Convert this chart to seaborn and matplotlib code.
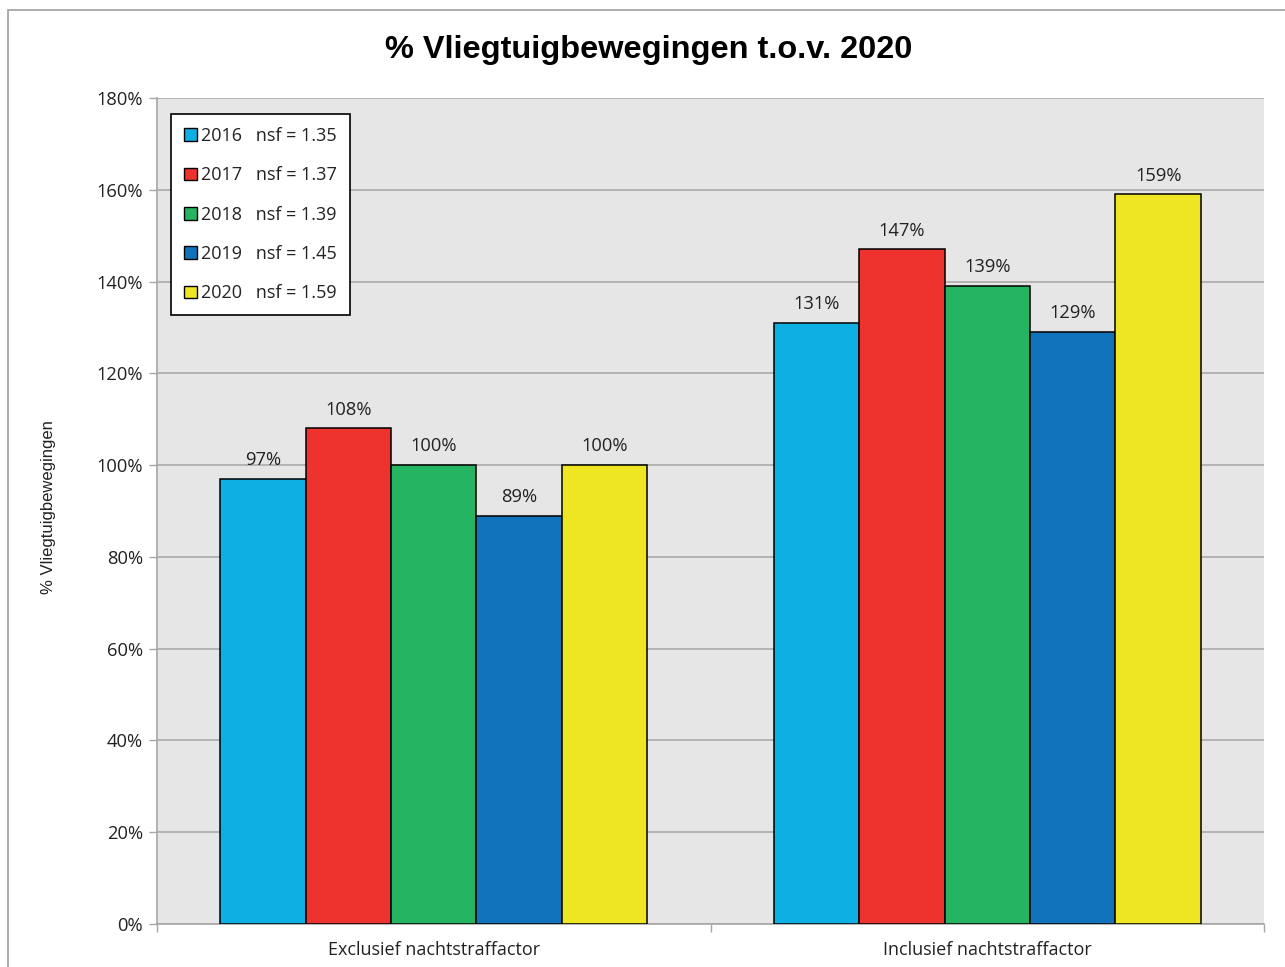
import numpy as np
import pandas as pd
import matplotlib
matplotlib.use('Agg')
import matplotlib.pyplot as plt
import seaborn as sns
from matplotlib.patches import Rectangle
from matplotlib.ticker import PercentFormatter, FixedLocator

# data
categories = ['Exclusief nachtstraffactor', 'Inclusief nachtstraffactor']
years = ['2016', '2017', '2018', '2019', '2020']
nsf = ['1.35', '1.37', '1.39', '1.45', '1.59']
excl_values = [97, 108, 100, 89, 100]
incl_values = [131, 147, 139, 129, 159]
colors = ['#0EB0E4', '#EE322D', '#25B462', '#1173B9', '#EEE623']

labels = [f'{y}   nsf = {n}' for y, n in zip(years, nsf)]
df = pd.DataFrame({
    'categorie': [categories[0]] * 5 + [categories[1]] * 5,
    'serie': labels * 2,
    'waarde': excl_values + incl_values,
})

sns.set_style('white')
plt.rcParams['font.family'] = ['Open Sans', 'DejaVu Sans']

fig = plt.figure(figsize=(12.85, 9.67), dpi=100)
ax = fig.add_axes([157/1285, 1 - 924/967, (1264-157)/1285, (924-98)/967])
ax.set_facecolor('#E6E6E6')

sns.barplot(data=df, x='categorie', y='waarde', hue='serie', palette=colors,
            width=0.772, edgecolor='black', linewidth=1.1, saturation=1,
            ax=ax, zorder=3)

for cont in ax.containers:
    ax.bar_label(cont, labels=[f'{v:.0f}%' for v in cont.datavalues],
                 padding=7, fontsize=13.2, color='#222222')

ax.set_ylim(0, 180)
ax.set_xlim(-0.5, 1.5)
ax.set_yticks(range(0, 181, 20))
ax.yaxis.set_major_formatter(PercentFormatter(decimals=0))
ax.grid(axis='y', color='#A6A6A6', linewidth=1.1, zorder=0)
ax.set_axisbelow(True)

# category boundaries as tick marks, labels centered
ax.xaxis.set_minor_locator(FixedLocator([-0.5, 0.5, 1.5]))
ax.tick_params(axis='x', which='major', length=0, labelsize=13, pad=12, colors='#222222')
ax.tick_params(axis='x', which='minor', length=6, width=1, color='#A6A6A6', direction='out')
ax.tick_params(axis='y', length=6, width=1, color='#A6A6A6', labelsize=13.2, labelcolor='#222222',
               direction='out', pad=4)
ax.tick_params(axis='both', which='both', bottom=True, left=True)

for s in ['top', 'right']:
    ax.spines[s].set_visible(False)
for s in ['left', 'bottom']:
    ax.spines[s].set_color('#A6A6A6')
    ax.spines[s].set_linewidth(1.2)

ax.set_xlabel('')
ax.set_ylabel('% Vliegtuigbewegingen', fontsize=12, color='#222222',
              family=['Liberation Sans', 'DejaVu Sans'])
ax.yaxis.set_label_coords((56 - 157) / 1107, 0.505)

leg = ax.legend(loc='upper left', bbox_to_anchor=(14/1107, 1 - 16/826), frameon=True,
                fancybox=False, edgecolor='black', facecolor='white', framealpha=1,
                fontsize=13, handlelength=0.7, handleheight=0.7, handletextpad=0.25,
                labelspacing=1.18, borderpad=0.72, borderaxespad=0)
leg.get_frame().set_linewidth(1.2)
for h in leg.legend_handles:
    h.set_edgecolor('black')
    h.set_linewidth(1)
for t in leg.get_texts():
    t.set_color('#222222')

fig.text(0.505, 1 - 50/967, '% Vliegtuigbewegingen t.o.v. 2020', ha='center', va='center',
         fontsize=23.4, fontweight='bold', family=['Liberation Sans', 'DejaVu Sans'],
         color='black')

# outer chart border (cropped on right and bottom)
fig.patches.append(Rectangle((8/1285, -0.01), 1.02, 1 - 10/967 + 0.01, transform=fig.transFigure,
                             fill=False, edgecolor='#A6A6A6', linewidth=1.3, clip_on=False))

fig.savefig('out.png', dpi=100, facecolor='white')
